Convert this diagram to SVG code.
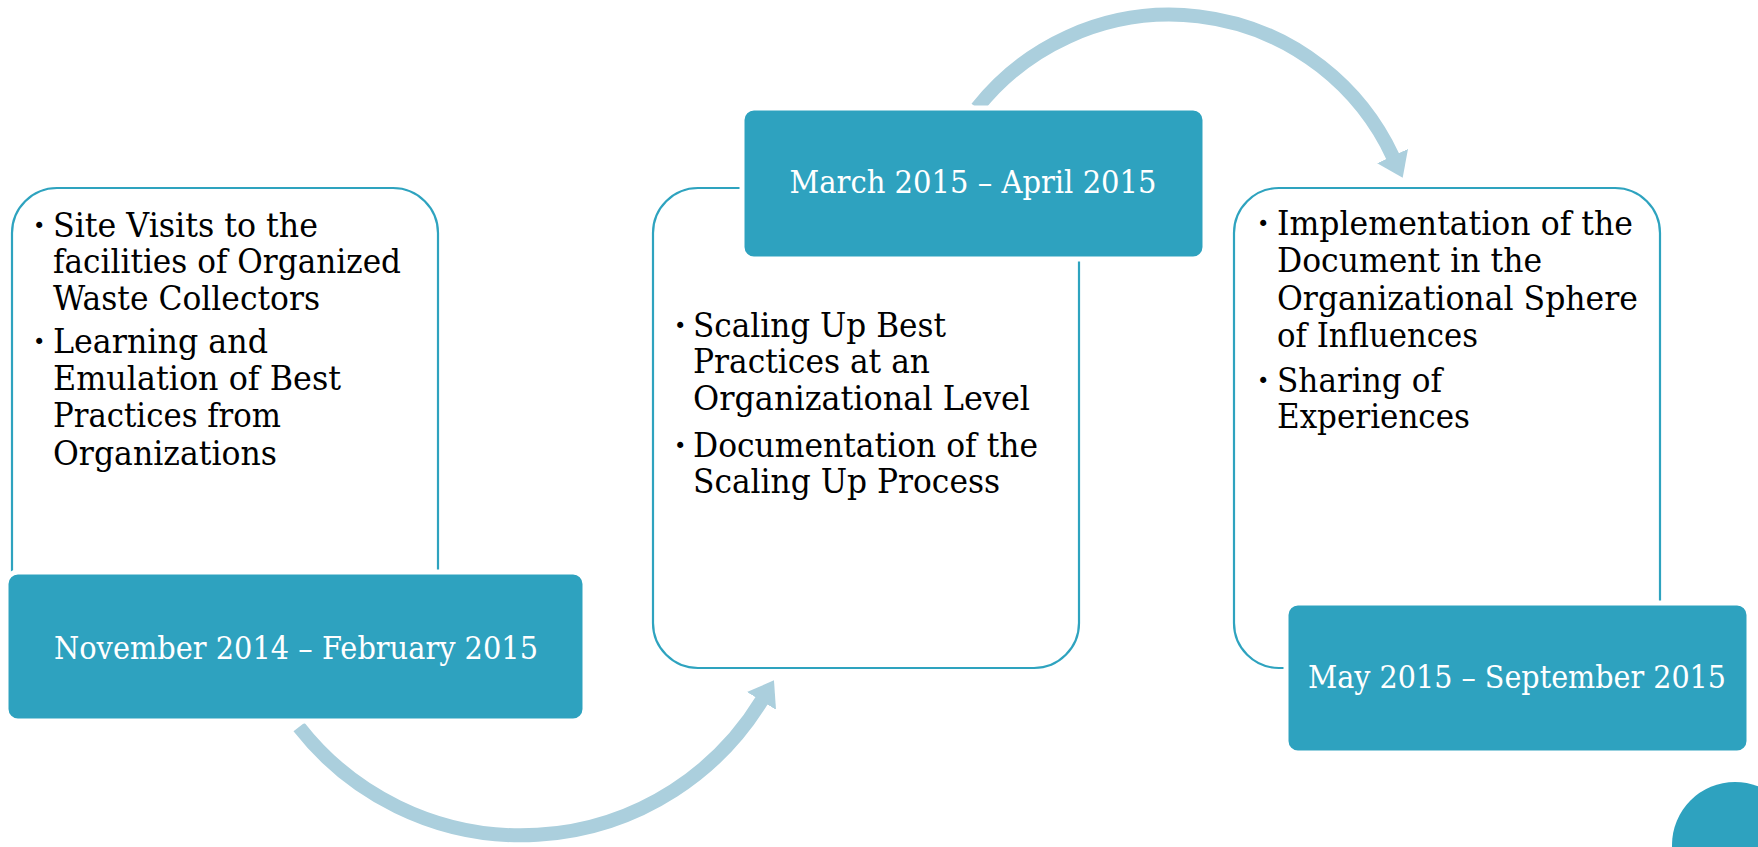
<svg xmlns="http://www.w3.org/2000/svg" width="1758" height="847" viewBox="0 0 1758 847">
<defs>
<style>
.card{fill:#ffffff;stroke:#2ea3bf;stroke-width:2.2}
.date{fill:#2ea2bf;stroke:#ffffff;stroke-width:5}
.dt{font-family:"DejaVu Serif","Liberation Serif",serif;font-size:31px;fill:#ffffff;text-anchor:middle}
.bt{font-family:"DejaVu Serif","Liberation Serif",serif;font-size:33px;fill:#000000}
.bl{font-family:"DejaVu Sans","Liberation Sans",sans-serif;font-size:21px;fill:#000000}
.arc{fill:none;stroke:#abcfdd;stroke-width:14}
</style>
<marker id="ah" markerUnits="userSpaceOnUse" viewBox="0 -18 26 36" refX="1" refY="0" markerWidth="26" markerHeight="36" orient="auto">
<path d="M0,-17 L24,0 L0,17 Z" fill="#abcfdd"/>
</marker>
</defs>
<rect width="1758" height="847" fill="#ffffff"/>
<g id="connectors">
<path class="arc" d="M 299 727 A 282 282 0 0 0 762 700" marker-end="url(#ah)"/>
<path class="arc" d="M 977 108 A 246 246 0 0 1 1393 157" marker-end="url(#ah)"/>
</g>
<g id="node1">
<rect class="card" x="12" y="188" width="426" height="480" rx="45"/>
<rect class="date" x="6" y="572" width="579" height="149" rx="12"/>
<text class="dt" x="296" y="659" textLength="484" lengthAdjust="spacingAndGlyphs">November 2014 – February 2015</text>
<text class="bl" x="33" y="233">•</text>
<text class="bt" x="53" y="237" textLength="265" lengthAdjust="spacingAndGlyphs">Site Visits to the</text>
<text class="bt" x="53" y="273" textLength="348" lengthAdjust="spacingAndGlyphs">facilities of Organized</text>
<text class="bt" x="53" y="310" textLength="267" lengthAdjust="spacingAndGlyphs">Waste Collectors</text>
<text class="bl" x="33" y="349">•</text>
<text class="bt" x="53" y="353" textLength="215" lengthAdjust="spacingAndGlyphs">Learning and</text>
<text class="bt" x="53" y="390" textLength="288" lengthAdjust="spacingAndGlyphs">Emulation of Best</text>
<text class="bt" x="53" y="427" textLength="228" lengthAdjust="spacingAndGlyphs">Practices from</text>
<text class="bt" x="53" y="465" textLength="224" lengthAdjust="spacingAndGlyphs">Organizations</text>
</g>
<g id="node2">
<rect class="card" x="653" y="188" width="426" height="480" rx="45"/>
<rect class="date" x="742" y="108" width="463" height="151" rx="12"/>
<text class="dt" x="973" y="193" textLength="367" lengthAdjust="spacingAndGlyphs">March 2015 – April 2015</text>
<text class="bl" x="674" y="333">•</text>
<text class="bt" x="693" y="337" textLength="253" lengthAdjust="spacingAndGlyphs">Scaling Up Best</text>
<text class="bt" x="693" y="373" textLength="237" lengthAdjust="spacingAndGlyphs">Practices at an</text>
<text class="bt" x="693" y="410" textLength="337" lengthAdjust="spacingAndGlyphs">Organizational Level</text>
<text class="bl" x="674" y="453">•</text>
<text class="bt" x="693" y="457" textLength="345" lengthAdjust="spacingAndGlyphs">Documentation of the</text>
<text class="bt" x="693" y="493" textLength="307" lengthAdjust="spacingAndGlyphs">Scaling Up Process</text>
</g>
<g id="node3">
<rect class="card" x="1234" y="188" width="426" height="480" rx="45"/>
<rect class="date" x="1286" y="603" width="463" height="150" rx="12"/>
<text class="dt" x="1517" y="688" textLength="418" lengthAdjust="spacingAndGlyphs">May 2015 – September 2015</text>
<text class="bl" x="1257" y="231">•</text>
<text class="bt" x="1277" y="235" textLength="356" lengthAdjust="spacingAndGlyphs">Implementation of the</text>
<text class="bt" x="1277" y="272" textLength="265" lengthAdjust="spacingAndGlyphs">Document in the</text>
<text class="bt" x="1277" y="310" textLength="361" lengthAdjust="spacingAndGlyphs">Organizational Sphere</text>
<text class="bt" x="1277" y="347" textLength="201" lengthAdjust="spacingAndGlyphs">of Influences</text>
<text class="bl" x="1257" y="388">•</text>
<text class="bt" x="1277" y="392" textLength="165" lengthAdjust="spacingAndGlyphs">Sharing of</text>
<text class="bt" x="1277" y="428" textLength="193" lengthAdjust="spacingAndGlyphs">Experiences</text>
</g>
<g id="corner">
<circle cx="1735" cy="845" r="63" fill="#2ea2bf"/>
</g>
</svg>
